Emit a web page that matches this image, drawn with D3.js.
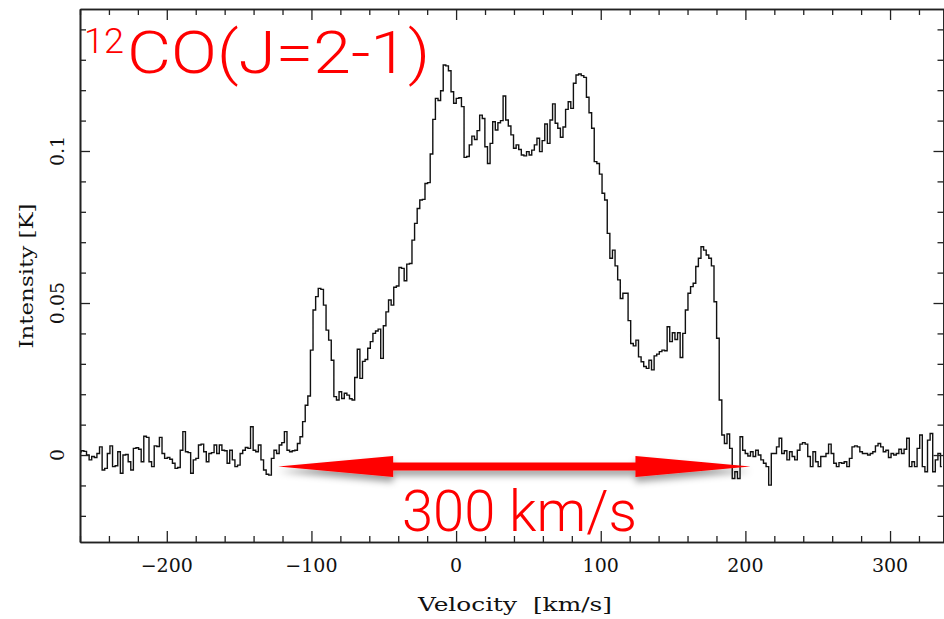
<!DOCTYPE html>
<html><head><meta charset="utf-8">
<script src="https://cdn.jsdelivr.net/npm/d3@7"></script>
<style>body{margin:0;background:#fff} svg{display:block}</style>
</head><body>
<svg id="chart" width="944" height="619"></svg>
<script>
// ---- data: 12CO(J=2-1) spectrum, channels start at velocityStart, step channelWidth (km/s)
const velocityStart = -260;
const channelWidth = 1.8;
const intensityBlueBaseline = [0.0011,0.0014,0.0012,0,-0.0016,-0.0005,-0.0008,0.0005,0.0027,-0.0049,
 -0.0044,0.0005,0.003,-0.0038,-0.0035,0.0011,-0.006,0,0.0002,-0.0022,
 -0.0049,0.0022,0.0024,0.0019,-0.0022,0.0062,0.0058,-0.0022,-0.0038,0.003,
 0.0028,0.0058,0.0005,-0.0011,-0.0008,-0.0014,-0.0027,-0.0044,-0.0041,0.0016,
 0.0077,0.0011,0.0008,-0.006,-0.0016,-0.0011,0.0033,0.0036,0.0011,-0.0022,
 0.0005,0.0008,0.0033,0.0005,0.0033,0.0016,0.0014,-0.0027,0.0016,-0.0016,
 -0.0038,-0.0033,0.0005,0.0016,0.0025,0.0022,0.0093,0.0016,0.0011,0.0033];
const intensityBlueWing = [-0.0016,-0.0049,-0.0063,-0.0066,-0.0011,0.0016,0.0005,0.0033,0.0041,0.0077,
 0.0016,0.0011,0.0014,0.0016,0.0038,0.006,0.011,0.0164,0.0194,0.0345,0.0477,
 0.0521,0.0548,0.0545,0.0493,0.0411,0.0378,0.0312,0.0192,0.0181,0.0208,
 0.0186,0.0203,0.0197,0.0185,0.0181,0.0255,0.0348,0.0252,0.0308,
 0.0314,0.0351,0.0373,0.04,0.0408,0.0414,0.0318,0.0425,0.0471,0.051,
 0.0493,0.0552,0.0556,0.0617,0.0614,0.0573,0.0628,0.063,0.0707,0.0762,
 0.0811,0.0839,0.0841,0.0893,0.0896];
const intensityCore = [0.099,0.1104,0.1173,0.1166,0.1198,0.1283,0.128,0.1264,0.1195,0.1157,
 0.1173,0.1175,0.1146,0.0979,0.0982,0.102,0.1049,0.1038,0.1067,0.1118,
 0.1107,0.1014,0.0959,0.1025,0.1096,0.1069,0.1093,0.11,0.1181,0.1102,
 0.1082,0.1053,0.1009,0.102,0.1005,0.0987,0.0984,0.0998,0.0987,0.1003,
 0.102,0.1042,0.0998,0.1034,0.1089,0.1025,0.1102,0.1155,0.1091,0.1075,
 0.1045,0.1079,0.1137,0.1162,0.114,0.1223,0.125,0.1253,0.1248,0.1242,
 0.1177,0.1126,0.1075,0.0965,0.0959,0.0924];
const intensityRedWing = [0.0861,0.0839,0.0729,0.0647,0.0674,0.0622,0.0576,0.0515,0.0532,0.0532,
 0.0442,0.0367,0.0359,0.0378,0.0323,0.0307,0.0291,0.0285,0.0312,0.028,
 0.0326,0.0332,0.034,0.0345,0.0343,0.0422,0.0373,0.0402,0.038,0.0402,
 0.0321,0.04,0.0477,0.0532,0.0554,0.0565,0.062,0.0647,0.0685,0.0674,
 0.0658,0.0647,0.0622,0.0504,0.0384,0.0181,0.0066,0.0038,0.0069,0.0022,
 -0.0077,-0.0055,-0.0077,0.006,0.0016];
const intensityRedBaseline = [0.0005,-0.0003,0.0011,-0.0005,0.0016,0,-0.0016,-0.0027,-0.0038,-0.0099,
 0.0005,0.0005,0.0027,0.0055,0.0005,0.0014,-0.0016,0.0011,-0.0005,-0.0016,
 0.0016,0.0036,0.0041,0.0036,-0.0005,-0.0038,0.0011,-0.0022,-0.0038,-0.0005,
 -0.0005,0.0005,0.0036,0.0005,-0.0027,-0.0038,-0.0025,-0.0027,-0.0022,-0.0038,
 -0.0011,0.0027,0.003,0.0027,0.0011,0.0005,0.0005,0,0.0005,0.0011,
 0.003,0.0038,0.0027,0.0011,0.0016,-0.0008,0.0005,0,0.0005,0.0019,
 0.0005,0.0019,0.0055,-0.0038,-0.0022,-0.0038,0.0022,0.0066,-0.0038,-0.0055,
 0.0049,0.0071,-0.0055,-0.0016,0.0005,-0.0038];

const xDomain = [-260, 337.3];
const yDomain = [-0.0286, 0.1467];
const xMajorTicks = [-200, -100, 0, 100, 200, 300];
const xMinorStep = 20;
const yMajorTicks = [0, 0.05, 0.1];
const yMinorStep = 0.01;
const xLabel = "Velocity  [km/s]";
const yLabel = "Intensity [K]";
const titleIsotope = "12";
const titleLine = "CO(J=2-1)";
const widthLabel = "300 km/s";
const arrowVelocities = [-123, 203.5];
const arrowIntensity = -0.0038;

// ---- layout
const svg = d3.select("#chart");
const plot = {left: 80, right: 944, top: 9, bottom: 542};
const x = d3.scaleLinear().domain(xDomain).range([plot.left, plot.right]);
const y = d3.scaleLinear().domain(yDomain).range([plot.bottom, plot.top]);

const intensities = [].concat(intensityBlueBaseline, intensityBlueWing, intensityCore, intensityRedWing, intensityRedBaseline);
const spectrum = intensities.map((t, i) => ({v: velocityStart + i * channelWidth, t}));

svg.append("defs").append("clipPath").attr("id", "clip")
  .append("rect").attr("x", plot.left).attr("y", plot.top)
  .attr("width", plot.right - plot.left).attr("height", plot.bottom - plot.top);

const filt = svg.select("defs").append("filter").attr("id", "shadow")
  .attr("x", "-10%").attr("y", "-100%").attr("width", "120%").attr("height", "400%");
filt.append("feDropShadow").attr("dx", 0).attr("dy", 5).attr("stdDeviation", 3.5)
  .attr("flood-color", "#000").attr("flood-opacity", 0.4);

// spectrum histogram
svg.append("path").datum(spectrum)
  .attr("clip-path", "url(#clip)")
  .attr("fill", "none").attr("stroke", "#111").attr("stroke-width", 1.4)
  .attr("d", d3.line().x(d => x(d.v)).y(d => y(d.t)).curve(d3.curveStep));

// axes
const axisColor = "#222";
const xMinor = d3.range(Math.ceil(xDomain[0] / xMinorStep) * xMinorStep, xDomain[1], xMinorStep)
  .filter(v => !xMajorTicks.includes(v));
const yMinor = d3.range(-2, 15).map(k => k * yMinorStep).filter(v => !yMajorTicks.some(m => Math.abs(m - v) < 1e-9));

function styleAxis(g) {
  g.selectAll(".domain").attr("stroke", axisColor).attr("stroke-width", 1.6);
  g.selectAll(".tick line").attr("stroke", axisColor).attr("stroke-width", 1.3);
  g.selectAll(".tick text").remove();
}
const fmtX = d3.format("");
// bottom
svg.append("g").attr("transform", `translate(0,${plot.bottom})`)
  .call(d3.axisBottom(x).tickValues(xMajorTicks).tickSizeInner(-11).tickSizeOuter(0)).call(styleAxis);
svg.append("g").attr("transform", `translate(0,${plot.bottom})`)
  .call(d3.axisBottom(x).tickValues(xMinor).tickSizeInner(-6).tickSizeOuter(0)).call(styleAxis);
// top
svg.append("g").attr("transform", `translate(0,${plot.top})`)
  .call(d3.axisTop(x).tickValues(xMajorTicks).tickSizeInner(-11).tickSizeOuter(0)).call(styleAxis);
svg.append("g").attr("transform", `translate(0,${plot.top})`)
  .call(d3.axisTop(x).tickValues(xMinor).tickSizeInner(-6).tickSizeOuter(0)).call(styleAxis);
// left
svg.append("g").attr("transform", `translate(${plot.left},0)`)
  .call(d3.axisLeft(y).tickValues(yMajorTicks).tickSizeInner(-10).tickSizeOuter(0)).call(styleAxis);
svg.append("g").attr("transform", `translate(${plot.left},0)`)
  .call(d3.axisLeft(y).tickValues(yMinor).tickSizeInner(-6).tickSizeOuter(0)).call(styleAxis);
// right
svg.append("g").attr("transform", `translate(${plot.right - 0.5},0)`)
  .call(d3.axisRight(y).tickValues(yMajorTicks).tickSizeInner(-10).tickSizeOuter(0)).call(styleAxis);
svg.append("g").attr("transform", `translate(${plot.right - 0.5},0)`)
  .call(d3.axisRight(y).tickValues(yMinor).tickSizeInner(-6).tickSizeOuter(0)).call(styleAxis);

// tick labels
const labelFont = "'DejaVu Serif', 'Liberation Serif', serif";
svg.append("g").selectAll("text").data(xMajorTicks).join("text")
  .attr("x", d => x(d)).attr("y", 572)
  .attr("text-anchor", "middle").attr("font-family", labelFont).attr("font-size", 19)
  .attr("fill", "#111").text(d => fmtX(d));
svg.append("g").selectAll("text").data(yMajorTicks).join("text")
  .attr("transform", d => `translate(64,${y(d)}) rotate(-90)`)
  .attr("text-anchor", "middle").attr("font-family", labelFont).attr("font-size", 19)
  .attr("fill", "#111").text(d => String(d));

// axis titles
svg.append("text").attr("x", 515).attr("y", 611).attr("text-anchor", "middle")
  .attr("font-family", labelFont).attr("font-size", 19).attr("fill", "#111")
  .attr("textLength", 194).attr("lengthAdjust", "spacingAndGlyphs")
  .attr("xml:space", "preserve").style("white-space", "pre").text(xLabel);
svg.append("text").attr("transform", "translate(33,276) rotate(-90)").attr("text-anchor", "middle")
  .attr("font-family", labelFont).attr("font-size", 19).attr("fill", "#111")
  .attr("textLength", 145).attr("lengthAdjust", "spacingAndGlyphs").text(yLabel);

// title
const redFont = "Roboto, 'Liberation Sans', Arial, sans-serif";
svg.append("text").attr("x", 84).attr("y", 53).attr("font-family", redFont).attr("font-weight", 300)
  .attr("font-size", 35).attr("fill", "#ff0000")
  .attr("textLength", 40).attr("lengthAdjust", "spacingAndGlyphs").text(titleIsotope);
svg.append("text").attr("x", 127).attr("y", 73).attr("font-family", redFont).attr("font-weight", 300)
  .attr("font-size", 60).attr("fill", "#ff0000")
  .attr("textLength", 303).attr("lengthAdjust", "spacingAndGlyphs").text(titleLine);

// 300 km/s arrow
const ax0 = x(arrowVelocities[0]), ax1 = x(arrowVelocities[1]), ay = y(arrowIntensity);
const headLen = 115, headHalf = 10.5, shaftHalf = 4;
const arrowPts = [
  [ax0, ay], [ax0 + headLen, ay - headHalf], [ax0 + headLen, ay - shaftHalf],
  [ax1 - headLen, ay - shaftHalf], [ax1 - headLen, ay - headHalf], [ax1, ay],
  [ax1 - headLen, ay + headHalf], [ax1 - headLen, ay + shaftHalf],
  [ax0 + headLen, ay + shaftHalf], [ax0 + headLen, ay + headHalf]
];
svg.append("path").attr("d", d3.line()(arrowPts) + "Z")
  .attr("fill", "#ff0000").attr("filter", "url(#shadow)");

svg.append("text").attr("x", 402).attr("y", 531).attr("font-family", redFont).attr("font-weight", 300)
  .attr("font-size", 57).attr("fill", "#ff0000")
  .attr("textLength", 235).attr("lengthAdjust", "spacingAndGlyphs").text(widthLabel);
</script>
</body></html>
